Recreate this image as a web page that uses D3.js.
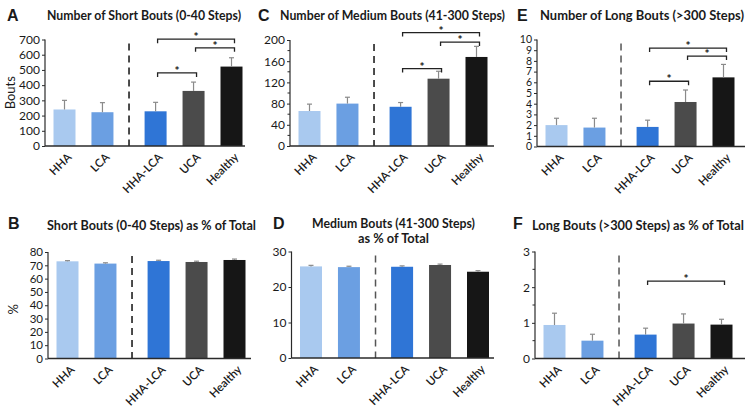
<!DOCTYPE html>
<html><head><meta charset="utf-8">
<script src="https://cdn.jsdelivr.net/npm/d3@7/dist/d3.min.js"></script>
<style>body{margin:0;background:#fff}svg{display:block}text{font-family:Lato,"Open Sans",sans-serif;fill:#1a1a1a}</style>
</head><body><svg id="c" width="745" height="408"></svg>
<script>
// ---- data ----
const groups = ["HHA", "LCA", "HHA-LCA", "UCA", "Healthy"];
const slots = [0, 1, 2.4, 3.4, 4.4];
const colors = ["#a9c9ef", "#6b9fe2", "#2f75d6", "#4b4b4b", "#161616"];

const shortCount = [240, 222, 228, 362, 522];
const shortCountErr = [60, 63, 59, 58, 58];
const mediumCount = [66, 80, 74, 127, 168];
const mediumCountErr = [13, 12, 8, 14, 20];
const longCount = [2.0, 1.77, 1.83, 4.16, 6.46];
const longCountErr = [0.64, 0.87, 0.63, 1.12, 1.21];

const shortPct = [73.0, 71.3, 73.2, 72.5, 74.0];
const shortPctErr = [0.5, 0.6, 0.6, 0.6, 0.7];
const mediumPct = [25.8, 25.6, 25.7, 26.2, 24.3];
const mediumPctErr = [0.3, 0.25, 0.25, 0.25, 0.3];
const longPct = [0.94, 0.50, 0.67, 0.98, 0.95];
const longPctErr = [0.33, 0.18, 0.18, 0.27, 0.15];

const ticksA = [0,100,200,300,400,500,600,700];
const ticksC = [0,40,80,120,160,200];
const ticksE = [0,1,2,3,4,5,6,7,8,9,10];
const ticksB = [0,10,20,30,40,50,60,70,80];
const ticksD = [0,10,20,30];
const ticksF = [0,1,2,3];
const minorC = [20,60,100,140,180];
const minorF = [0.5,1.5,2.5];

// significance brackets: [from index, to index, level]
const sigA = [[2,3,480],[3,4,645],[2,4,702]];
const sigC = [[2,3,146],[3,4,196],[2,4,214]];
const sigE = [[2,3,6.1],[3,4,8.45],[2,4,9.2]];
const sigF = [[2,4,2.17]];

const titles = {
  A: ["Number of Short Bouts (0-40 Steps)"],
  B: ["Short Bouts (0-40 Steps) as % of Total"],
  C: ["Number of Medium Bouts (41-300 Steps)"],
  D: ["Medium Bouts (41-300 Steps)", "as % of Total"],
  E: ["Number of Long Bouts (>300 Steps)"],
  F: ["Long Bouts (>300 Steps) as % of Total"]
};

// ---- layout ----
const panels = [
  {id:"A", vals:shortCount, err:shortCountErr, ticks:ticksA, minor:[], max:700, sig:sigA,
   x0:45, x1:245, yTop:39.5, yBot:146, ylab:"Bouts", dash:"#111", tfs:12,
   letter:[7,21], title:[[47,241,20]]},
  {id:"C", vals:mediumCount, err:mediumCountErr, ticks:ticksC, minor:minorC, max:200, sig:sigC,
   x0:290, x1:494, yTop:40, yBot:146, dash:"#111", tfs:12,
   letter:[258,21], title:[[280,505,20]]},
  {id:"E", vals:longCount, err:longCountErr, ticks:ticksE, minor:[], max:10, sig:sigE,
   x0:537, x1:745, yTop:39.5, yBot:146.5, dash:"#555", tfs:10.5,
   letter:[517,21], title:[[540,744,20]]},
  {id:"B", vals:shortPct, err:shortPctErr, ticks:ticksB, minor:[], max:80, sig:[],
   x0:48, x1:251, yTop:252, yBot:358.5, ylab:"%", dash:"#111", tfs:11.5,
   letter:[8,229], title:[[47,256,230]]},
  {id:"D", vals:mediumPct, err:mediumPctErr, ticks:ticksD, minor:[], max:30, sig:[],
   x0:291.5, x1:494, yTop:251.5, yBot:358, dash:"#555", tfs:12,
   letter:[273,229], title:[[312,475,228],[358,429,243]]},
  {id:"F", vals:longPct, err:longPctErr, ticks:ticksF, minor:minorF, max:3, sig:sigF,
   x0:535, x1:745, yTop:251.5, yBot:358.5, dash:"#555", tfs:12,
   letter:[513,229], title:[[532,744,230]]}
];

const svg = d3.select("#c");
const axisCol = "#2a2a2a";

panels.forEach(p => {
  const g = svg.append("g");
  const x = d3.scaleLinear().domain([0, 4.4]).range([p.x0 + 19.5, p.x0 + 186.5]);
  const y = d3.scaleLinear().domain([0, p.max]).range([p.yBot, p.yTop]);
  const bw = 22;

  // letter & title
  g.append("text").attr("x", p.letter[0]).attr("y", p.letter[1])
    .style("font-size", "16px").style("font-weight", "700").style("font-family", "Arial, Liberation Sans, sans-serif").text(p.id);
  titles[p.id].forEach((t, i) => {
    const [xa, xb, yy] = p.title[i];
    g.append("text").attr("x", xa).attr("y", yy)
      .attr("textLength", xb - xa).attr("lengthAdjust", "spacingAndGlyphs")
      .style("font-size", "12.5px").style("font-weight", "700").text(t);
  });

  // bars
  g.selectAll("rect.bar").data(p.vals).join("rect").attr("class","bar")
    .attr("x", (d,i) => x(slots[i]) - bw/2).attr("width", bw)
    .attr("y", d => y(d)).attr("height", d => y(0) - y(d))
    .attr("fill", (d,i) => colors[i]);

  // error bars
  p.vals.forEach((v, i) => {
    const cx = x(slots[i]);
    const top = y(v + p.err[i]);
    g.append("line").attr("x1", cx).attr("x2", cx).attr("y1", y(v)).attr("y2", top)
      .attr("stroke", "#8a8a8a").attr("stroke-width", 1.2);
    g.append("line").attr("x1", cx - 2.5).attr("x2", cx + 2.5).attr("y1", top).attr("y2", top)
      .attr("stroke", "#8a8a8a").attr("stroke-width", 1.2);
  });

  // dashed divider
  const dx = x(1.7);
  g.append("line").attr("x1", dx).attr("x2", dx).attr("y1", p.yTop + 4).attr("y2", p.yBot)
    .attr("stroke", p.dash).attr("stroke-width", 1.5).attr("stroke-dasharray", "7,5");

  // y axis
  const ax = g.append("g").attr("transform", `translate(${p.x0},0)`)
    .call(d3.axisLeft(y).tickValues(p.ticks).tickSize(3).tickPadding(2).tickFormat(d3.format("d")));
  ax.select(".domain").attr("stroke", axisCol).attr("stroke-width", 1.2).attr("d", `M0,${p.yTop}V${p.yBot}`);
  ax.selectAll(".tick line").attr("stroke", axisCol);
  ax.selectAll(".tick text").style("font-size", p.tfs + "px").style("font-family", "Lato, sans-serif").attr("fill", "#1a1a1a");
  p.minor.forEach(m => {
    g.append("line").attr("x1", p.x0 - 2.5).attr("x2", p.x0).attr("y1", y(m)).attr("y2", y(m))
      .attr("stroke", axisCol);
  });

  // x axis line
  g.append("line").attr("x1", p.x0).attr("x2", p.x1).attr("y1", p.yBot).attr("y2", p.yBot)
    .attr("stroke", axisCol).attr("stroke-width", 1.5);

  // x labels
  groups.forEach((name, i) => {
    const cx = x(slots[i]) + 5, cy = p.yBot + 9;
    g.append("text").attr("transform", `translate(${cx},${cy}) rotate(-45)`)
      .attr("text-anchor", "end").attr("dy", "0.35em")
      .style("font-size", "11.5px").style("font-weight", "600").text(name);
  });

  // y label
  if (p.ylab) {
    g.append("text").attr("transform", `translate(${p.x0 - 30},${(p.yTop + p.yBot)/2 + (p.id==="B"?4:0)}) rotate(-90)`)
      .attr("text-anchor", "middle").style("font-size", "13px").text(p.ylab);
  }

  // significance brackets
  p.sig.forEach(s => {
    const xa = x(slots[s[0]]) + 2, xb = x(slots[s[1]]) + 3, yy = y(s[2]);
    g.append("path").attr("d", `M${xa},${yy+4}V${yy}H${xb}V${yy+4}`)
      .attr("fill", "none").attr("stroke", "#222").attr("stroke-width", 1.3);
    g.append("text").attr("x", (xa + xb)/2).attr("y", yy + 2)
      .attr("text-anchor", "middle").style("font-size", "12px").style("font-weight", "700").text("*");
  });
});
</script></body></html>
